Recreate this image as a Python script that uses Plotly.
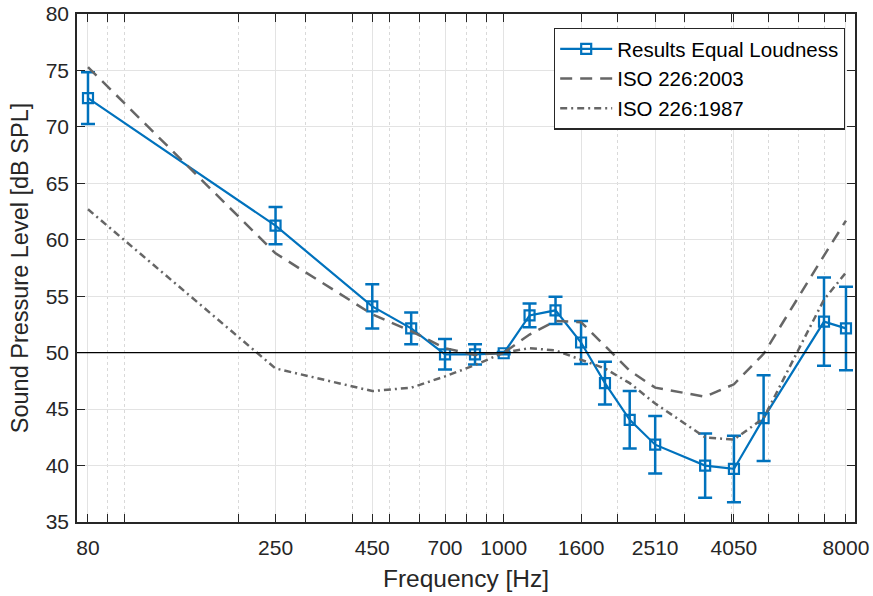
import math
import plotly.graph_objects as go

freq = [80, 250, 450, 570, 700, 840, 1000, 1170, 1370, 1600, 1850, 2150, 2510, 3400, 4050, 4850, 7000, 8000]
results = [72.55, 61.25, 54.1, 52.15, 49.85, 49.85, 49.95, 53.3, 53.75, 50.9, 47.3, 44.05, 41.85, 40.0, 39.7, 44.2, 52.75, 52.15]
results_err = [2.3, 1.65, 1.95, 1.4, 1.35, 0.9, 0.1, 1.05, 1.2, 1.9, 1.9, 2.55, 2.55, 2.85, 2.95, 3.8, 3.9, 3.7]
iso2003 = [75.3, 58.8, 53.4, 51.9, 50.4, 49.8, 50.0, 51.6, 52.8, 52.7, 50.6, 48.4, 46.9, 46.1, 47.2, 49.9, 58.6, 61.7]
iso1987 = [62.7, 48.6, 46.6, 46.9, 47.9, 48.9, 50.0, 50.4, 50.2, 49.4, 48.6, 47.3, 45.5, 42.5, 42.3, 44.2, 54.7, 57.1]

major_ticks = [80, 250, 450, 700, 1000, 1600, 2510, 4050, 8000]
minor_ticks = [90, 100, 200, 300, 400, 500, 600, 800, 900, 2000, 3000, 4000, 5000, 6000, 7000]
y_ticks = [35, 40, 45, 50, 55, 60, 65, 70, 75, 80]

blue = "#0072BD"
gray = "#666666"
axis_col = "#262626"
font = "Liberation Sans, Arial, sans-serif"

fig = go.Figure()
fig.add_trace(go.Scatter(
    x=freq, y=results, mode="lines+markers", name="Results Equal Loudness",
    line=dict(color=blue, width=2.2),
    marker=dict(symbol="square-open", size=10, color=blue, line=dict(width=2.2, color=blue)),
    error_y=dict(type="data", array=results_err, visible=True, color=blue, thickness=2.5, width=7),
))
fig.add_trace(go.Scatter(
    x=freq, y=iso2003, mode="lines", name="ISO 226:2003",
    line=dict(color=gray, width=2.5, dash="12px,8px"),
))
fig.add_trace(go.Scatter(
    x=freq, y=iso1987, mode="lines", name="ISO 226:1987",
    line=dict(color=gray, width=2.5, dash="7px,4px,2px,4px"),
))

fig.add_shape(type="line", xref="paper", x0=0, x1=1, yref="y", y0=50, y1=50,
              line=dict(color="black", width=1.3), layer="above")

fig.update_layout(
    width=873, height=596,
    margin=dict(l=77, r=18, t=14, b=74, autoexpand=False),
    paper_bgcolor="white", plot_bgcolor="white",
    font=dict(family=font, size=21, color=axis_col),
    showlegend=True,
    legend=dict(
        x=0.987, y=0.973, xanchor="right", yanchor="top",
        bgcolor="white", bordercolor=axis_col, borderwidth=1.3,
        font=dict(family=font, size=20.5, color="black"),
        tracegroupgap=0, itemwidth=52,
    ),
)

fig.update_xaxes(
    type="log",
    range=[math.log10(80) - 0.029, math.log10(8000) + 0.0238],
    tickmode="array", tickvals=major_ticks, ticktext=[str(v) for v in major_ticks],
    ticks="inside", ticklen=8, tickwidth=1.2, tickcolor=axis_col,
    showline=True, linecolor=axis_col, linewidth=1.5, mirror="ticks",
    showgrid=True, gridcolor="#e3e3e3", gridwidth=1.3,
    zeroline=False,
    tickfont=dict(family=font, size=21, color=axis_col),
    ticklabelstandoff=6,
    title=dict(text="Frequency [Hz]", font=dict(family=font, size=24.5, color=axis_col), standoff=12),
    minor=dict(tickmode="array", tickvals=minor_ticks, ticks="inside", ticklen=8, tickwidth=1.2,
               tickcolor=axis_col, showgrid=True, gridcolor="#d9d9d9", griddash="dot", gridwidth=1),
    automargin=False,
)
fig.update_yaxes(
    range=[35, 80],
    tickmode="array", tickvals=y_ticks,
    ticks="inside", ticklen=8, tickwidth=1.2, tickcolor=axis_col,
    showline=True, linecolor=axis_col, linewidth=1.5, mirror="ticks",
    showgrid=True, gridcolor="#e3e3e3", gridwidth=1.3,
    zeroline=False,
    tickfont=dict(family=font, size=21, color=axis_col),
    ticklabelstandoff=2,
    title=dict(text="Sound Pressure Level [dB SPL]", font=dict(family=font, size=23.5, color=axis_col), standoff=10),
    automargin=False,
)

fig.write_html("out.html")
